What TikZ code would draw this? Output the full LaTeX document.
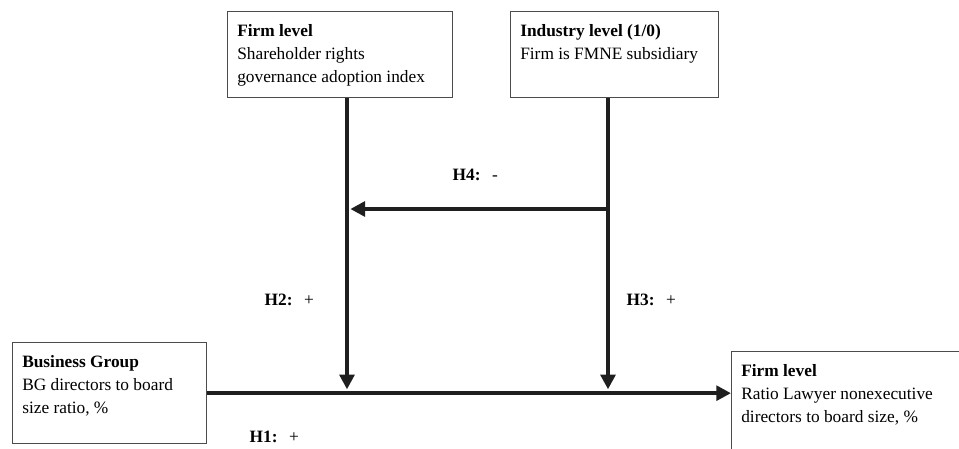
\documentclass[tikz,border=0pt]{standalone}
\usepackage{fontspec}
\setmainfont{Liberation Serif}
\usetikzlibrary{positioning,arrows.meta}

\begin{document}
\begin{tikzpicture}[x=0.75pt,y=-0.75pt,
  box/.style={draw=black!70,line width=1pt,anchor=north west,inner sep=0pt},
  boxtext/.style={anchor=north west,align=left,inner xsep=7.5pt,inner ysep=10pt,font=\fontsize{13}{17.3}\selectfont},
  arr/.style={line width=3pt,draw=black!88,-{Triangle[length=11pt,width=11pt]}},
  hyp/.style={anchor=west,font=\fontsize{13}{15}\selectfont}]
\def\px{0.75pt}
\useasboundingbox (0,0) rectangle (959,449);
\clip (0,0) rectangle (959,449);
% boxes
\node[box,minimum width=225*\px,minimum height=86*\px] (fl) at (227,11) {};
\node[boxtext] (flt) at (fl.north west) {\textbf{Firm level}\\Shareholder rights\\governance adoption index};
\node[box,minimum width=208*\px,minimum height=86*\px] (il) at (510,11) {};
\node[boxtext] (ilt) at (il.north west) {\textbf{Industry level (1/0)}\\Firm is FMNE subsidiary};
\node[box,minimum width=194*\px,minimum height=101*\px] (bg) at (12,342) {};
\node[boxtext] (bgt) at (bg.north west) {\textbf{Business Group}\\BG directors to board\\size ratio, \%};
\node[box,minimum width=240*\px,minimum height=110*\px] (fo) at (731,351) {};
\node[boxtext] (fot) at (fo.north west) {\textbf{Firm level}\\Ratio Lawyer nonexecutive\\directors to board size, \%};
% arrows
\coordinate (m2) at (347,392);
\coordinate (m3) at (608,392);
\coordinate (h4s) at (608,209);
\draw[arr] (bg.east) -- (bg.east -| fo.west);
\draw[arr] (fl.south -| m2) -- ([yshift=2pt]m2);
\draw[arr] (il.south -| m3) -- ([yshift=2pt]m3);
\draw[arr] (h4s) -- ([xshift=2.5pt]h4s -| m2);
% hypotheses
\node[hyp] (h1) at (245,437) {\textbf{H1:}\ \ \,+};
\node[hyp] (h2) at (260,300) {\textbf{H2:}\ \ \,+};
\node[hyp] (h3) at (622,300) {\textbf{H3:}\ \ \,+};
\node[hyp] (h4) at (448,175) {\textbf{H4:}\ \ \,-};
\end{tikzpicture}
\end{document}
